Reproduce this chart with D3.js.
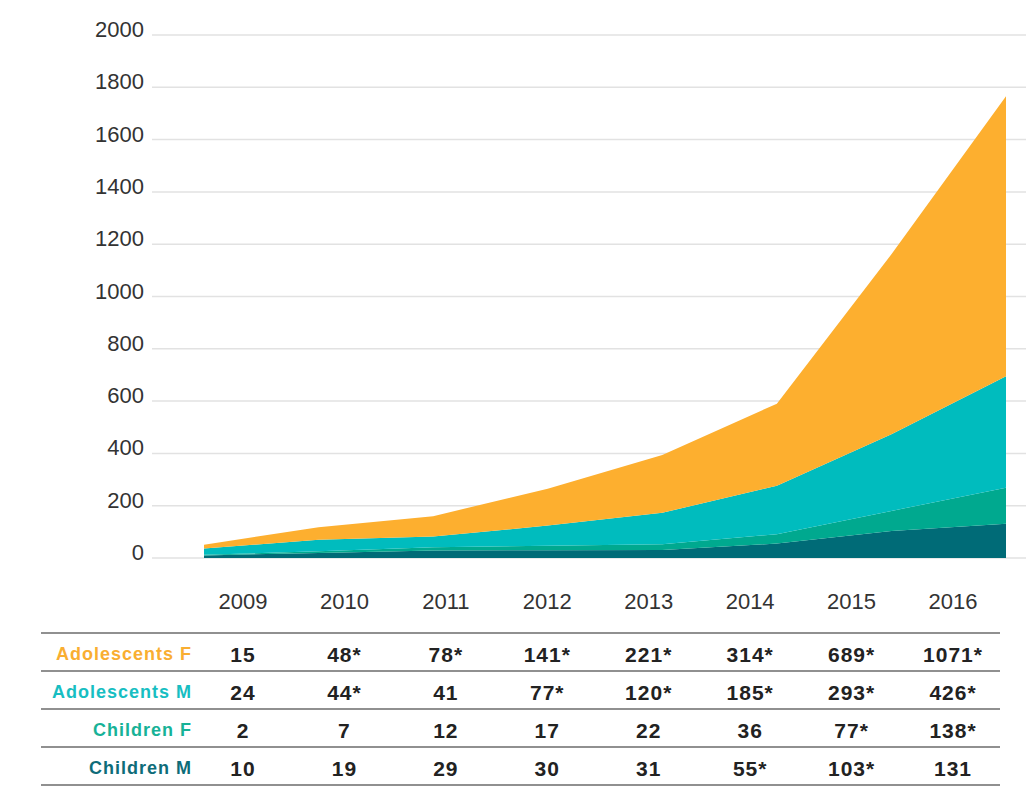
<!DOCTYPE html>
<html>
<head>
<meta charset="utf-8">
<script src="https://cdn.jsdelivr.net/npm/d3@7"></script>
<style>
  body { margin: 0; background: #fff; }
  svg { font-family: "Liberation Sans", Arial, sans-serif; }
</style>
</head>
<body>
<svg id="chart" width="1026" height="796"></svg>
<script>
// Data
const years = ["2009", "2010", "2011", "2012", "2013", "2014", "2015", "2016"];
const adolescentsF = [15, 48, 78, 141, 221, 314, 689, 1071];
const adolescentsM = [24, 44, 41, 77, 120, 185, 293, 426];
const childrenF = [2, 7, 12, 17, 22, 36, 77, 138];
const childrenM = [10, 19, 29, 30, 31, 55, 103, 131];
// which table cells carry an asterisk
const starF = [0, 1, 1, 1, 1, 1, 1, 1];
const starM = [0, 1, 0, 1, 1, 1, 1, 1];
const starCF = [0, 0, 0, 0, 0, 0, 1, 1];
const starCM = [0, 0, 0, 0, 0, 1, 1, 0];
const yTicks = [0, 200, 400, 600, 800, 1000, 1200, 1400, 1600, 1800, 2000];

const seriesNames = ["Children M", "Children F", "Adolescents M", "Adolescents F"];
const colors = {
    "Children M": "#006b77",
    "Children F": "#00a98f",
    "Adolescents M": "#00bcbe",
    "Adolescents F": "#fdaf2f"
};
const labelColors = {
    "Children M": "#0e6c79",
    "Children F": "#17b297",
    "Adolescents M": "#17bec2",
    "Adolescents F": "#f9ae31"
};

const rows = years.map((y, i) => ({
    year: y,
    "Children M": childrenM[i],
    "Children F": childrenF[i],
    "Adolescents M": adolescentsM[i],
    "Adolescents F": adolescentsF[i]
}));

const svg = d3.select("#chart");

// scales
const x = d3.scalePoint().domain(years).range([204, 1006]);
const xCol = d3.scalePoint().domain(years).range([243, 953]);
const y = d3.scaleLinear().domain([0, 2000]).range([558, 35]);

// gridlines + y labels
const yAxis = svg.append("g").attr("class", "y-axis");
yAxis.selectAll("line")
    .data(yTicks)
    .join("line")
    .attr("x1", 152).attr("x2", 1026)
    .attr("y1", d => y(d)).attr("y2", d => y(d))
    .attr("stroke", "#e2e2e2")
    .attr("stroke-width", 1.5);
yAxis.selectAll("text")
    .data(yTicks)
    .join("text")
    .attr("x", 144)
    .attr("y", d => y(d) + 2)
    .attr("text-anchor", "end")
    .attr("font-size", 22)
    .attr("fill", "#333")
    .text(d => d);

// stacked areas
const stack = d3.stack().keys(seriesNames);
const layers = stack(rows);
const area = d3.area()
    .x(d => x(d.data.year))
    .y0(d => y(d[0]))
    .y1(d => y(d[1]));

svg.append("g")
    .selectAll("path")
    .data(layers)
    .join("path")
    .attr("d", area)
    .attr("fill", d => colors[d.key]);

// year labels
svg.append("g")
    .selectAll("text")
    .data(years)
    .join("text")
    .attr("x", d => xCol(d))
    .attr("y", 609)
    .attr("text-anchor", "middle")
    .attr("font-size", 22)
    .attr("fill", "#333")
    .text(d => d);

// table
const tableRows = [
    { name: "Adolescents F", vals: adolescentsF, star: starF },
    { name: "Adolescents M", vals: adolescentsM, star: starM },
    { name: "Children F", vals: childrenF, star: starCF },
    { name: "Children M", vals: childrenM, star: starCM }
];
const rowY = d3.scaleBand().domain(tableRows.map(d => d.name)).range([633, 785]);

const table = svg.append("g").attr("class", "table");
table.selectAll("line")
    .data([633, 671, 709, 747, 785])
    .join("line")
    .attr("x1", 41).attr("x2", 1000)
    .attr("y1", d => d).attr("y2", d => d)
    .attr("stroke", "#6b6b6b")
    .attr("stroke-width", 1.5);

const tr = table.selectAll("g.row")
    .data(tableRows)
    .join("g")
    .attr("class", "row")
    .attr("transform", d => "translate(0," + (rowY(d.name) + rowY.bandwidth() / 2 + 2) + ")");

tr.append("text")
    .attr("x", 192)
    .attr("dy", "0.36em")
    .attr("text-anchor", "end")
    .attr("font-size", 18)
    .attr("font-weight", "bold")
    .attr("letter-spacing", 1)
    .attr("fill", d => labelColors[d.name])
    .text(d => d.name);

tr.selectAll("text.val")
    .data(d => d.vals.map((v, i) => ({ v: v, s: d.star[i], year: years[i] })))
    .join("text")
    .attr("class", "val")
    .attr("x", d => xCol(d.year))
    .attr("dy", "0.36em")
    .attr("text-anchor", "middle")
    .attr("font-size", 21)
    .attr("font-weight", "bold")
    .attr("letter-spacing", 1)
    .attr("fill", "#222")
    .text(d => d.v + (d.s ? "*" : ""));
</script>
</body>
</html>
